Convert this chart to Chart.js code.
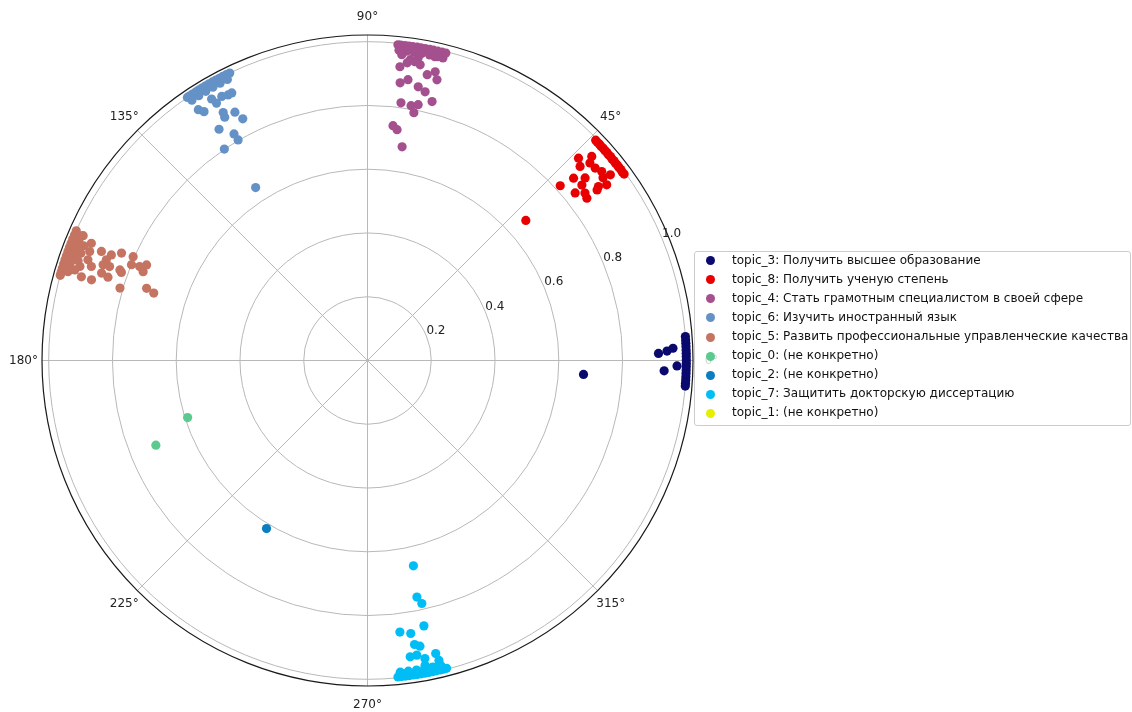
<!DOCTYPE html>
<html><head><meta charset="utf-8">
<script src="https://cdn.jsdelivr.net/npm/chart.js@4"></script>
<style>
html,body{margin:0;padding:0;background:#fff;}
#wrap{position:relative;width:1132px;height:712px;overflow:hidden;}
#c{position:absolute;left:0;top:0;}
#legend{position:absolute;left:694px;top:251px;width:437px;height:175px;box-sizing:border-box;border:1px solid #cccccc;border-radius:3px;background:rgba(255,255,255,0.8);font-family:"DejaVu Sans",sans-serif;font-size:12px;color:#111;}
.row{position:absolute;left:37px;height:19px;line-height:19px;white-space:nowrap;}
.dot{position:absolute;width:9px;height:9px;border-radius:50%;left:11px;}
</style></head>
<body>
<div id="wrap"><canvas id="c" width="1132" height="712"></canvas><div id="legend"></div></div>
<script>
// ---- data (theta in degrees, r) ----
const seriesNames = [
  "topic_3: Получить высшее образование",
  "topic_8: Получить ученую степень",
  "topic_4: Стать грамотным специалистом в своей сфере",
  "topic_6: Изучить иностранный язык",
  "topic_5: Развить профессиональные управленческие качества",
  "topic_0: (не конкретно)",
  "topic_2: (не конкретно)",
  "topic_7: Защитить докторскую диссертацию",
  "topic_1: (не конкретно)"
];
const seriesColors = ["#0a0a6e","#e80000","#a4508e","#6592c6","#c57462","#5cc98e","#0a7ec0","#00bdf5","#e8ee00"];

const theta3 = [4.3,3.7,3.1,2.5,1.9,1.3,0.7,0.1,-0.5,-1.1,-1.7,-2.3,-2.9,-3.5,-4.1,-4.6,1.4,1.8,2.3,-1.0,-2.0,-3.7];
const r3     = [1.0,1.0,1.0,1.0,1.0,1.0,1.0,1.0,1.0,1.0,1.0,1.0,1.0,1.0,1.0,1.0,0.913,0.94,0.959,0.971,0.931,0.679];

const theta8 = [44,43.5,43,42.5,42,41.5,41,40.5,40,39.5,39,38.5,38,37.5,37,36.5,36,
                43.8,42.3,41.6,42.4,40.2,38.9,37.4,41.5,40.0,36.3,37.0,39.3,38.9,37.6,36.5,36.6,42.2,41.5,37.8];
const r8     = [0.995,0.994,0.995,0.994,0.995,0.994,0.995,0.994,0.995,0.994,0.995,0.994,0.995,0.994,0.995,0.994,0.995,
                0.917,0.951,0.933,0.903,0.935,0.944,0.959,0.863,0.891,0.931,0.907,0.869,0.837,0.861,0.856,0.897,0.816,0.663,0.935];

const theta4 = [84.5,84.0,83.2,82.5,81.8,81.0,80.3,79.5,78.7,78.0,77.2,76.4,75.7,
                84.2,82.8,81.4,80.0,78.5,77.0,76.0,
                83.6,81.9,80.5,77.5,83.7,82.4,81.0,79.9,76.8,76.1,78.2,83.3,81.8,79.5,77.9,76.0,82.6,80.3,78.8,79.4,83.8,82.7,80.8];
const r4     = [0.995,0.995,0.995,0.995,0.995,0.995,0.995,0.995,0.995,0.995,0.995,0.995,0.995,
                0.978,0.978,0.978,0.978,0.978,0.978,0.978,
                0.965,0.953,0.963,0.976,0.927,0.942,0.949,0.942,0.930,0.907,0.916,0.877,0.890,0.873,0.862,0.837,0.815,0.811,0.818,0.791,0.741,0.730,0.679];

const theta6 = [115.6,116.3,117.0,117.7,118.4,119.1,119.8,120.5,121.2,121.9,122.6,123.3,124.0,124.4,
                116.5,118.0,119.5,121.0,122.5,124.0,
                120.8,120.4,118.9,117.7,116.9,124.0,123.3,120.2,120.4,118.1,117.3,122.7,120.5,120.4,124.1,122.9];
const r6     = [1.0,1.0,1.0,1.0,1.0,1.0,1.0,1.0,1.0,1.0,1.0,1.0,1.0,1.0,
                0.985,0.985,0.985,0.985,0.985,0.985,
                0.955,0.936,0.946,0.941,0.941,0.949,0.934,0.900,0.885,0.883,0.853,0.862,0.825,0.802,0.801,0.646];

const theta5 = [156.0,156.8,157.6,158.4,159.2,160.0,160.8,161.6,162.4,163.2,164.0,164.5,
                156.5,157.5,158.5,159.5,160.5,161.5,162.5,163.5,
                158.0,159.5,161.0,
                156.3,157.0,158.6,160.2,161.2,161.9,162.8,163.7,163.7,157.7,157.6,156.4,158.9,160.1,160.0,161.8,162.2,159.9,160.3,156.1,157.9,157.6,156.6,158.4,163.7,161.9,162.5];
const r5     = [1.0,1.0,1.0,1.0,1.0,1.0,1.0,1.0,1.0,1.0,1.0,1.0,
                0.98,0.98,0.98,0.98,0.98,0.98,0.98,0.98,
                0.96,0.96,0.96,
                0.974,0.941,0.936,0.932,0.915,0.949,0.961,0.935,0.902,0.902,0.869,0.842,0.878,0.882,0.861,0.878,0.855,0.827,0.820,0.804,0.799,0.773,0.755,0.757,0.809,0.729,0.703];

const theta0 = [197.6,201.8];
const r0     = [0.592,0.715];

const theta2 = [239.0];
const r2     = [0.615];

const theta7 = [275.5,276.2,276.9,277.6,278.3,279.0,279.7,280.4,281.1,281.8,282.5,283.2,283.9,284.4,
                276.0,277.5,279.0,280.5,282.0,283.5,
                282.6,281.8,282.6,276.8,279.0,282.0,279.4,280.4,278.2,279.5,280.9,280.7,283.1,283.4,282.7,276.8];
const r7     = [0.997,0.997,0.997,0.997,0.997,0.997,0.997,0.997,0.997,0.997,0.997,0.997,0.997,0.997,
                0.983,0.983,0.983,0.983,0.983,0.983,
                0.660,0.758,0.781,0.858,0.867,0.851,0.903,0.911,0.939,0.937,0.952,0.973,0.944,0.967,0.986,0.989];

const theta1 = [];
const r1     = [];

const radialTicks = [0.2,0.4,0.6,0.8,1.0];
const radialTickLabels = ["0.2","0.4","0.6","0.8","1.0"];
const angleTicks = [0,45,90,135,180,225,270,315];
const angleTickLabels = ["0°","45°","90°","135°","180°","225°","270°","315°"];
const R_MAX = 1.021;

const seriesTheta = [theta3,theta8,theta4,theta6,theta5,theta0,theta2,theta7,theta1];
const seriesR     = [r3,r8,r4,r6,r5,r0,r2,r7,r1];

const rad = d => d*Math.PI/180;
const datasets = seriesNames.map((name,k)=>({
  label: name,
  data: seriesTheta[k].map((t,i)=>({x: seriesR[k][i]*Math.cos(rad(t)), y: seriesR[k][i]*Math.sin(rad(t))})),
  backgroundColor: seriesColors[k],
  borderWidth: 0,
  pointRadius: 4.6,
  pointHoverRadius: 4.6,
  clip: false
}));

const polarGrid = {
  id: 'polarGrid',
  beforeDatasetsDraw(chart){
    const ctx = chart.ctx, xs = chart.scales.x, ys = chart.scales.y;
    const cx = xs.getPixelForValue(0), cy = ys.getPixelForValue(0);
    const rp = v => xs.getPixelForValue(v) - cx;
    ctx.save();
    ctx.strokeStyle = '#b8b8b8'; ctx.lineWidth = 1;
    radialTicks.forEach(v=>{ ctx.beginPath(); ctx.arc(cx,cy,rp(v),0,Math.PI*2); ctx.stroke(); });
    angleTicks.forEach(a=>{
      ctx.beginPath(); ctx.moveTo(cx,cy);
      ctx.lineTo(xs.getPixelForValue(R_MAX*Math.cos(rad(a))), ys.getPixelForValue(R_MAX*Math.sin(rad(a))));
      ctx.stroke();
    });
    ctx.strokeStyle = '#1a1a1a'; ctx.lineWidth = 1.2;
    ctx.beginPath(); ctx.arc(cx,cy,rp(R_MAX),0,Math.PI*2); ctx.stroke();
    ctx.fillStyle = '#222';
    ctx.font = '12px "DejaVu Sans"';
    ctx.textAlign = 'center'; ctx.textBaseline = 'middle';
    angleTicks.forEach((a,i)=>{
      const rr = 1.079;
      ctx.fillText(angleTickLabels[i], xs.getPixelForValue(rr*Math.cos(rad(a))), ys.getPixelForValue(rr*Math.sin(rad(a))));
    });
    ctx.textAlign = 'left'; ctx.textBaseline = 'bottom';
    radialTicks.forEach((v,i)=>{
      ctx.fillText(radialTickLabels[i], xs.getPixelForValue(v*Math.cos(rad(22.5))), ys.getPixelForValue(v*Math.sin(rad(22.5)))+1);
    });
    ctx.restore();
  }
};

new Chart(document.getElementById('c'), {
  type: 'scatter',
  data: { datasets },
  options: {
    responsive: false,
    animation: false,
    devicePixelRatio: 1,
    events: [],
    layout: { padding: { left: 42, top: 35, right: 439, bottom: 26 } },
    scales: {
      x: { type: 'linear', min: -R_MAX, max: R_MAX, display: false },
      y: { type: 'linear', min: -R_MAX, max: R_MAX, display: false }
    },
    plugins: { legend: { display: false }, tooltip: { enabled: false } }
  },
  plugins: [polarGrid]
});

// legend
const lg = document.getElementById('legend');
seriesNames.forEach((name,i)=>{
  const cyv = 8.7 + 19.08*i;
  const d = document.createElement('div'); d.className='dot';
  d.style.top = (cyv-4.5)+'px'; d.style.background = seriesColors[i];
  lg.appendChild(d);
  const t = document.createElement('div'); t.className='row';
  t.style.top = (cyv-10)+'px'; t.textContent = name;
  lg.appendChild(t);
});
</script>
</body></html>
